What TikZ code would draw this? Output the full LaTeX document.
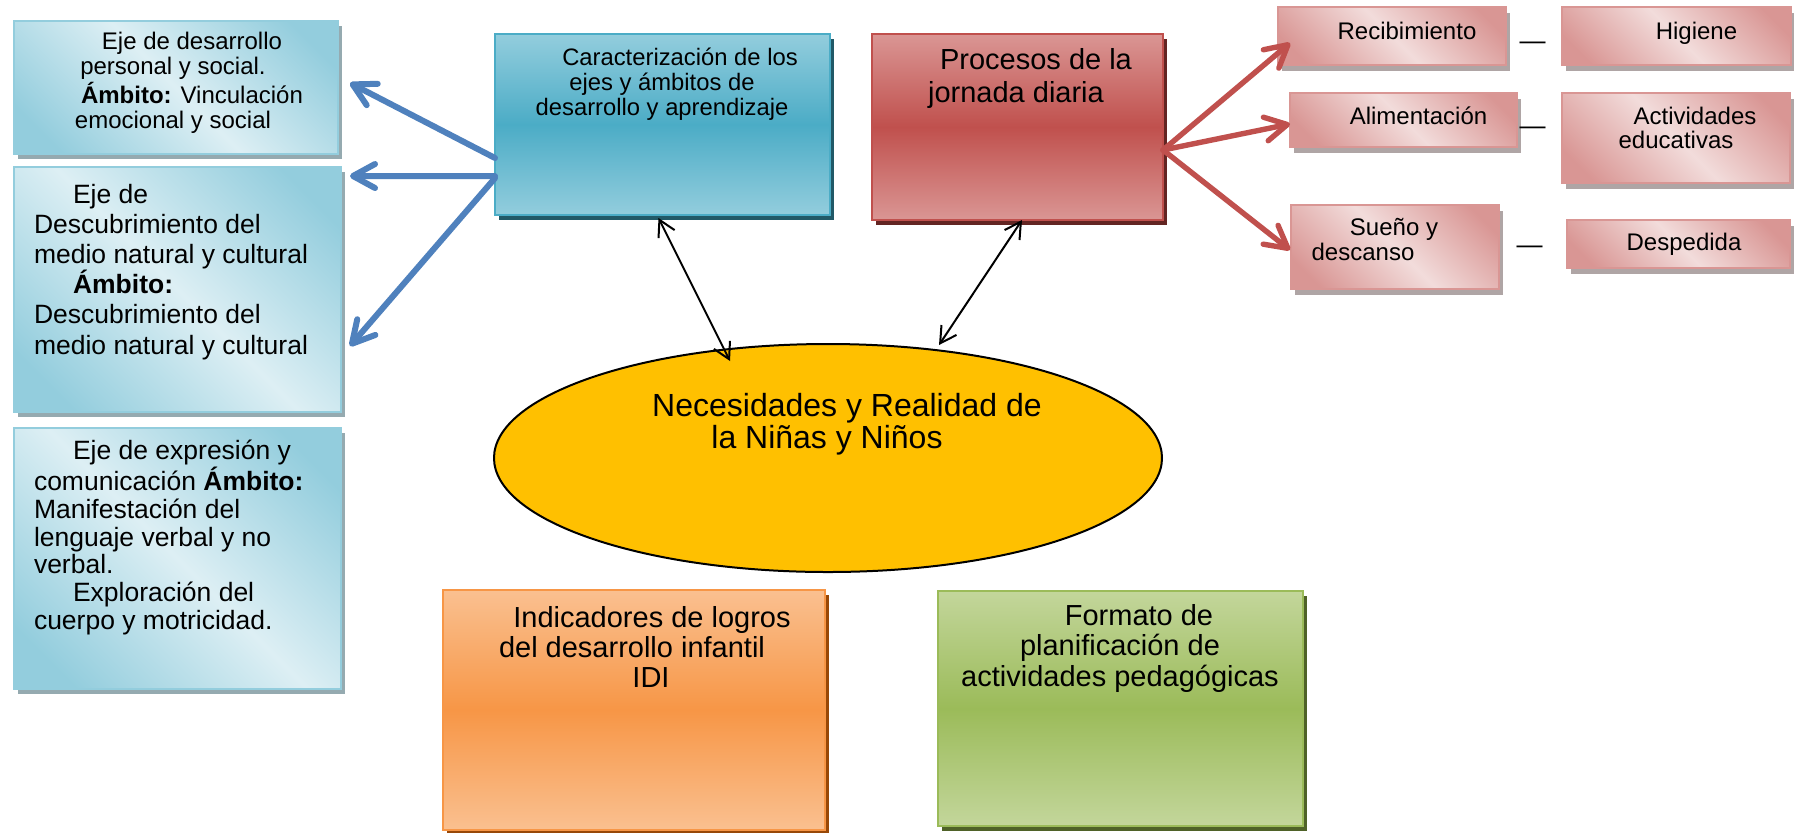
\documentclass[tikz,border=0pt]{standalone}
\usepackage{fontspec}
\setmainfont{Liberation Sans}
\usetikzlibrary{arrows.meta,shapes.geometric,shadows,calc}

\definecolor{bD}{HTML}{93CDDD}
\definecolor{bL}{HTML}{DDEFF4}
\definecolor{rD}{HTML}{D99694}
\definecolor{rL}{HTML}{F2DCDB}
\definecolor{aqua}{HTML}{4BACC6}
\definecolor{aquaL}{HTML}{93CDDD}
\definecolor{aquaS}{HTML}{215967}
\definecolor{redM}{HTML}{C0504D}
\definecolor{redL}{HTML}{DA9694}
\definecolor{redS}{HTML}{632523}
\definecolor{orM}{HTML}{F79646}
\definecolor{orL}{HTML}{FAC090}
\definecolor{orS}{HTML}{984807}
\definecolor{grM}{HTML}{9BBB59}
\definecolor{grL}{HTML}{C3D69B}
\definecolor{grS}{HTML}{4F6228}
\definecolor{blueA}{HTML}{4F81BD}
\definecolor{gold}{HTML}{FFC000}
\definecolor{shBlue}{HTML}{95AAB0}
\definecolor{shGrey}{HTML}{AFA5A5}

\pgfdeclarehorizontalshading{bluediag}{100bp}{color(0bp)=(bD); color(22bp)=(bD); color(50bp)=(bL); color(78bp)=(bD); color(100bp)=(bD)}
\pgfdeclarehorizontalshading{reddiag}{100bp}{color(0bp)=(rD); color(22bp)=(rD); color(50bp)=(rL); color(78bp)=(rD); color(100bp)=(rD)}

\tikzset{
  box/.style={rectangle, inner sep=0pt, outer sep=0pt},
  leftbox/.style={box, shading=bluediag, shading angle=45, draw=bD, line width=1pt,
    drop shadow={shadow xshift=2pt, shadow yshift=-2.5pt, fill=shBlue, opacity=1}},
  smallbox/.style={box, shading=reddiag, shading angle=45, draw=rD, line width=1pt,
    drop shadow={shadow xshift=2pt, shadow yshift=-3pt, fill=shGrey, opacity=1}},
  carbox/.style={box, top color=aquaL, bottom color=aquaL, middle color=aqua, draw=aqua, line width=1pt,
    drop shadow={shadow xshift=2pt, shadow yshift=-2.5pt, fill=aquaS, opacity=1}},
  probox/.style={box, top color=redL, bottom color=redL, middle color=redM, draw=redM, line width=1pt,
    drop shadow={shadow xshift=2pt, shadow yshift=-2.5pt, fill=redS, opacity=1}},
  indbox/.style={box, top color=orL, bottom color=orL, middle color=orM, draw=orM, line width=1pt,
    drop shadow={shadow xshift=2pt, shadow yshift=-2.5pt, fill=orS, opacity=1}},
  forbox/.style={box, top color=grL, bottom color=grL, middle color=grM, draw=grM, line width=1pt,
    drop shadow={shadow xshift=2pt, shadow yshift=-2.5pt, fill=grS, opacity=1}},
  txt/.style={inner sep=0pt, outer sep=0pt, text=black},
  blueArr/.style={draw=blueA, line width=3pt, line cap=round, -{Straight Barb[length=11pt,width=12pt,round]}},
  redArr/.style={draw=redM, line width=2.7pt, line cap=round, -{Straight Barb[length=11pt,width=12pt,round]}},
  blackArr/.style={draw=black, line width=1pt, {Straight Barb[length=8pt,width=9pt]}-{Straight Barb[length=8pt,width=9pt]}},
}

\begin{document}
\begin{tikzpicture}[x=0.5pt,y=-0.5pt]
\fill[white] (0,0) rectangle (1794,832);
\useasboundingbox (0,0) rectangle (1794,832);

% left blue boxes
\node[leftbox, minimum width=162pt, minimum height=66.5pt] (b1) at (176,87.5) {};
\node[leftbox, minimum width=163.5pt, minimum height=122.5pt] (b2) at (177.5,289.5) {};
\node[leftbox, minimum width=163.5pt, minimum height=130.5pt] (b3) at (177.5,558.5) {};

% main boxes
\node[carbox, minimum width=167.5pt, minimum height=90.5pt] (car) at (662.5,124.5) {};
\node[probox, minimum width=145.5pt, minimum height=93pt] (pro) at (1017.5,127) {};
\node[indbox, minimum width=191pt, minimum height=120pt] (ind) at (634,710) {};
\node[forbox, minimum width=182.5pt, minimum height=117.5pt] (for) at (1120.5,708.5) {};
\node[ellipse, fill=gold, draw=black, line width=1pt, inner sep=0pt, outer sep=0pt,
      minimum width=334pt, minimum height=114pt] (ell) at (828,458) {};

% right small boxes
\node[smallbox, minimum width=114pt, minimum height=29pt] (rec) at (1392,36) {};
\node[smallbox, minimum width=114.5pt, minimum height=29pt] (hig) at (1676.5,36) {};
\node[smallbox, minimum width=113.5pt, minimum height=27pt] (ali) at (1403.5,120) {};
\node[smallbox, minimum width=114pt, minimum height=45pt] (act) at (1676,138) {};
\node[smallbox, minimum width=104pt, minimum height=42pt] (sue) at (1395,247) {};
\node[smallbox, minimum width=111.5pt, minimum height=24pt] (des) at (1678.5,244) {};

% texts (anchor base = baseline of the last line)
\node[txt, anchor=base, align=center, font=\fontsize{12}{12.5}\selectfont] (b1t) at (173,128)
  {\hspace*{19pt}Eje de desarrollo\\personal y social.\\\hspace*{19pt}\textbf{Ámbito:} Vinculación\\emocional y social};
\node[txt, anchor=base west, align=left, font=\fontsize{13.25}{15.1}\selectfont] (b2t) at (34,354)
  {\hspace*{19.5pt}Eje de\\Descubrimiento del\\medio natural y cultural\\\hspace*{19.5pt}\textbf{Ámbito:}\\Descubrimiento del\\medio natural y cultural};
\node[txt, anchor=base west, align=left, font=\fontsize{13.25}{13.83}\selectfont] (b3t) at (34,629)
  {\hspace*{19.5pt}Eje de expresión y\\comunicación \textbf{Ámbito:}\\Manifestación del\\lenguaje verbal y no\\verbal.\\\hspace*{19.5pt}Exploración del\\cuerpo y motricidad.};
\node[txt, anchor=base, align=center, font=\fontsize{11.9}{12.5}\selectfont] (cart) at (662,115)
  {\hspace*{18pt}Caracterización de los\\ejes y ámbitos de\\desarrollo y aprendizaje};
\node[txt, anchor=base, align=center, font=\fontsize{14.5}{16.5}\selectfont] (prot) at (1016,102)
  {\hspace*{20pt}Procesos de la\\jornada diaria};
\node[txt, anchor=base, align=center, font=\fontsize{16}{16}\selectfont] (ellt) at (827,448)
  {\hspace*{20pt}Necesidades y Realidad de\\la Niñas y Niños};
\node[txt, anchor=base, align=center, font=\fontsize{14.5}{15}\selectfont] (indt) at (632,687)
  {\hspace*{20pt}Indicadores de logros\\del desarrollo infantil\\\hspace*{19pt}IDI};
\node[txt, anchor=base, align=center, font=\fontsize{14.5}{15.25}\selectfont] (fort) at (1120,686)
  {\hspace*{19pt}Formato de\\planificación de\\actividades pedagógicas};
\node[txt, anchor=base, font=\fontsize{12}{12}\selectfont] (rect) at (1407,39) {Recibimiento};
\node[txt, anchor=base, font=\fontsize{12}{12}\selectfont] (higt) at (1696.5,39) {Higiene};
\node[txt, anchor=base, font=\fontsize{12}{12}\selectfont] (alit) at (1418.5,124) {Alimentación};
\node[txt, anchor=base, align=center, font=\fontsize{12}{12}\selectfont] (actt) at (1676,148)
  {\hspace*{19pt}Actividades\\educativas};
\node[txt, anchor=base, align=center, font=\fontsize{12}{12.5}\selectfont] (suet) at (1363,260)
  {\hspace*{31pt}Sueño y\\descanso};
\node[txt, anchor=base, font=\fontsize{12}{12}\selectfont] (dest) at (1684,250) {Despedida};

% dashes
\node[txt, anchor=base, font=\fontsize{13}{13}\selectfont] (d1) at (1532.5,49) {—};
\node[txt, anchor=base, font=\fontsize{13}{13}\selectfont] (d2) at (1532.5,134) {—};
\node[txt, anchor=base, font=\fontsize{13}{13}\selectfont] (d3) at (1529.5,253) {—};

% blue arrows
\draw[blueArr] ($(car.north west)!0.685!(car.south west)$) -- ([xshift=6pt,yshift=2.25pt]b1.east);
\draw[blueArr] ($(car.north west)!0.785!(car.south west)$) -- ([xshift=4.5pt,yshift=-4.5pt]b2.north east);
\draw[blueArr] ($(car.north west)!0.796!(car.south west)$) -- ([xshift=4.5pt,yshift=33pt]b2.south east);

% red arrows
\draw[redArr] ([yshift=-11.5pt]pro.east) -- ([xshift=6pt,yshift=-3.5pt]rec.west);
\draw[redArr] ([yshift=-11.5pt]pro.east) -- ([yshift=-2pt]ali.west);
\draw[redArr] ([yshift=-11.5pt]pro.east) -- ([xshift=-0.5pt,yshift=-1.5pt]sue.west);

% black double arrows
\draw[blackArr] ([xshift=-2pt,yshift=-1.5pt]car.south) -- ([xshift=-49pt,yshift=48.5pt]ell.center);
\draw[blackArr] ([xshift=2.25pt]pro.south) -- ([xshift=55.5pt,yshift=56.5pt]ell.center);
\end{tikzpicture}
\end{document}
